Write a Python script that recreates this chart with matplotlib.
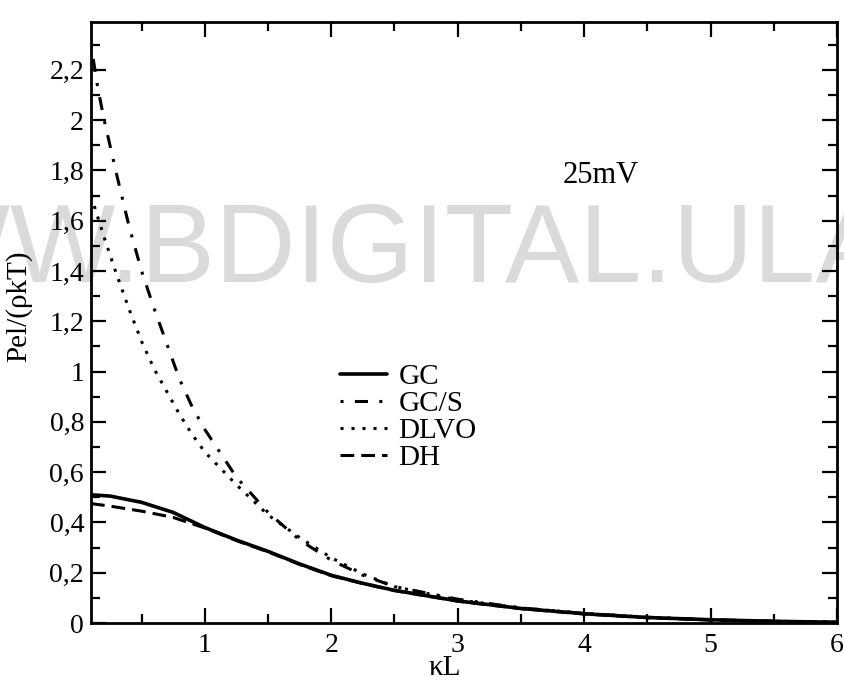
import matplotlib
matplotlib.use("Agg")
import matplotlib.pyplot as plt
from matplotlib.ticker import MultipleLocator, FuncFormatter

# Electrostatic pressure curves at 25 mV surface potential
x_gc = [0.1, 0.25, 0.5, 0.75, 1.0, 1.25, 1.5, 1.75, 2.0, 2.25, 2.5, 3.0, 3.5, 4.0, 4.5, 5.0, 5.5, 6.0]
gc = [0.51, 0.505, 0.48, 0.44, 0.38, 0.33, 0.285, 0.235, 0.19, 0.158, 0.13, 0.088, 0.058, 0.037, 0.022, 0.013, 0.007, 0.003]

x_gcs = [0.1, 0.15, 0.2, 0.3, 0.4, 0.5, 0.6, 0.7, 0.8, 0.9, 1.0, 1.25, 1.5, 1.75, 2.0, 2.25, 2.5, 3.0, 3.5, 4.0, 4.5, 5.0, 5.5, 6.0]
gcs = [2.30, 2.14, 2.01, 1.79, 1.58, 1.40, 1.25, 1.11, 0.97, 0.86, 0.77, 0.58, 0.44, 0.33, 0.25, 0.19, 0.145, 0.095, 0.06, 0.038, 0.023, 0.013, 0.007, 0.003]

x_dlvo = [0.1, 0.2, 0.3, 0.4, 0.5, 0.6, 0.7, 0.8, 0.9, 1.0, 1.25, 1.5, 1.75, 2.0, 2.25, 2.5, 3.0, 3.5, 4.0, 4.5, 5.0, 5.5, 6.0]
dlvo = [1.70, 1.54, 1.39, 1.25, 1.12, 1.01, 0.92, 0.83, 0.75, 0.68, 0.55, 0.43, 0.34, 0.26, 0.195, 0.145, 0.092, 0.06, 0.038, 0.023, 0.013, 0.007, 0.003]

x_dh = [0.1, 0.25, 0.5, 0.75, 1.0, 1.25, 1.5, 1.75, 2.0, 2.25, 2.5, 3.0, 3.5, 4.0, 4.5, 5.0, 5.5, 6.0]
dh = [0.475, 0.465, 0.445, 0.42, 0.378, 0.328, 0.283, 0.233, 0.188, 0.157, 0.129, 0.087, 0.057, 0.036, 0.021, 0.012, 0.006, 0.003]

labels = ["GC", "GC/S", "DLVO", "DH"]

serif = ["Liberation Serif", "DejaVu Serif"]
plt.rcParams["font.family"] = serif

fig = plt.figure(figsize=(8.44, 6.83), dpi=100)
ax = fig.add_axes([0.1078, 0.0878, 0.8839, 0.8799])
ax.patch.set_facecolor("none")

# repository watermark behind the plot
fig.text(-0.238, 0.587, "WWW.BDIGITAL.ULA.VE", family="Liberation Sans",
         fontsize=80.5, color="#dadada", ha="left", va="baseline", zorder=-5)

lw = 2.2
ax.plot(x_gc, gc, color="black", lw=2.6, ls="-", label=labels[0], solid_capstyle="round")
ax.plot(x_gcs, gcs, color="black", lw=lw, ls=(0, (1.0, 3.7, 4.3, 3.7)), label=labels[1])
ax.plot(x_dlvo, dlvo, color="black", lw=lw, ls=(0, (1.0, 2.6)), label=labels[2])
ax.plot(x_dh, dh, color="black", lw=lw, ls=(0, (4.5, 2.3)), label=labels[3])

ax.set_xlim(0.1, 6.0)
ax.set_ylim(0, 2.39)

ax.xaxis.set_major_locator(MultipleLocator(1))
ax.xaxis.set_minor_locator(MultipleLocator(0.5))
ax.yaxis.set_major_locator(MultipleLocator(0.2))
ax.yaxis.set_minor_locator(MultipleLocator(0.1))


def comma_fmt(v, pos):
    s = f"{v:.1f}".rstrip("0").rstrip(".")
    return s.replace(".", ",")


ax.yaxis.set_major_formatter(FuncFormatter(comma_fmt))
ax.xaxis.set_major_formatter(FuncFormatter(lambda v, p: f"{v:.0f}"))

ax.tick_params(which="both", direction="in", top=True, right=True, width=1.6, color="black")
ax.tick_params(which="major", length=11)
ax.tick_params(which="minor", length=6.5)
ax.tick_params(axis="x", which="major", labelsize=20, pad=7)
ax.tick_params(axis="y", which="major", labelsize=20, pad=5)
for sp in ax.spines.values():
    sp.set_linewidth(2.0)

ax.set_xlabel("κL", fontsize=21, va="center")
ax.xaxis.set_label_coords(0.4745, -0.074)
ax.set_ylabel("Pel/(ρkT)", fontsize=21, va="center")
ax.yaxis.set_label_coords(-0.097, 0.527)

ax.text(4.13, 1.78, "25mV", fontsize=22, ha="center", va="center")

ax.legend(loc="upper left", bbox_to_anchor=(0.334, 0.432), frameon=False,
          fontsize=21, handlelength=1.6, handletextpad=0.4, labelspacing=0.02,
          borderpad=0, borderaxespad=0)

fig.savefig("out.png", dpi=100)
